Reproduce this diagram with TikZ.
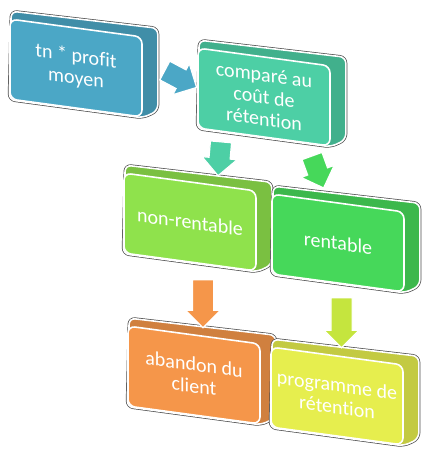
\documentclass[tikz,border=0pt]{standalone}
\usepackage{fontspec}
\setmainfont{Carlito}[Ligatures=NoCommon]
\usetikzlibrary{shapes.arrows,backgrounds}

\definecolor{bleu}{HTML}{4BA7C6}
\definecolor{turquoise}{HTML}{4DCFA5}
\definecolor{vertclair}{HTML}{8FE24C}
\definecolor{vertfonce}{HTML}{46D85A}
\definecolor{orangec}{HTML}{F5964A}
\definecolor{jaune}{HTML}{E6EE4E}
\definecolor{vertjaune}{HTML}{C5E53E}

\begin{document}
\begin{tikzpicture}[x=1pt,y=-1pt,
    face/.style={draw=white, line width=1.6pt, rounded corners=7pt,
      minimum width=132pt, minimum height=80pt, inner sep=2pt,
      text=white, align=center, yslant=-0.135,
      font=\fontsize{20}{22}\selectfont},
    slab/.style={rounded corners=6pt, draw=white, line width=1.6pt,
      preaction={draw=black!70, line width=3pt}},
    fleche/.style={single arrow, draw=white, line width=1.2pt, inner sep=10pt,
      single arrow head extend=7pt, minimum height=#1},
    fleche/.default=36pt]
  \useasboundingbox (0,0) rectangle (430,457);

  % faces avant
  \node[face, fill=bleu]      (profit)    at (76,68)   {tn * profit\\moyen};
  \node[face, fill=turquoise] (compare)   at (264,97)  {comparé au\\coût de\\rétention};
  \node[face, fill=vertclair] (nonrent)   at (190,222) {non-rentable};
  \node[face, fill=vertfonce] (rent)      at (338,243) {rentable};
  \node[face, fill=orangec]   (abandon)   at (194,375) {abandon du\\client};
  \node[face, fill=jaune]     (retention) at (337,396) {programme de\\rétention};

  % epaisseur des blocs
  \begin{scope}[on background layer]
    \foreach \b/\c in {profit/bleu, compare/turquoise, nonrent/vertclair,
                       rent/vertfonce, abandon/orangec, retention/jaune}
      \path[slab, fill=\c!85!black] (\b.south west)
        -- ([xshift=2pt, yshift=7pt]\b.north west)
        -- ([xshift=15pt, yshift=8pt]\b.north east)
        -- ([xshift=15pt, yshift=7pt]\b.south east)
        -- (\b.south east) -- cycle;
  \end{scope}

  % fleches
  \path (profit.center) -- node[fleche, fill=bleu, xshift=6pt, yshift=6pt, rotate=-28] (f1) {} (compare.center);
  \path (compare.center) -- node[fleche=34pt, fill=turquoise, xshift=-7pt, yshift=6pt, rotate=-95] (f2) {} (nonrent.center);
  \path (compare.center) -- node[fleche=34pt, fill=vertfonce, xshift=15pt, yshift=3pt, rotate=-70] (f3) {} (rent.center);
  \path (nonrent.center) -- node[fleche=48pt, fill=orangec, xshift=11pt, rotate=-90] (f4) {} (abandon.center);
  \path (rent.center) -- node[fleche=50pt, fill=vertjaune, xshift=4pt, yshift=2pt, rotate=-90] (f5) {} (retention.center);
\end{tikzpicture}
\end{document}
